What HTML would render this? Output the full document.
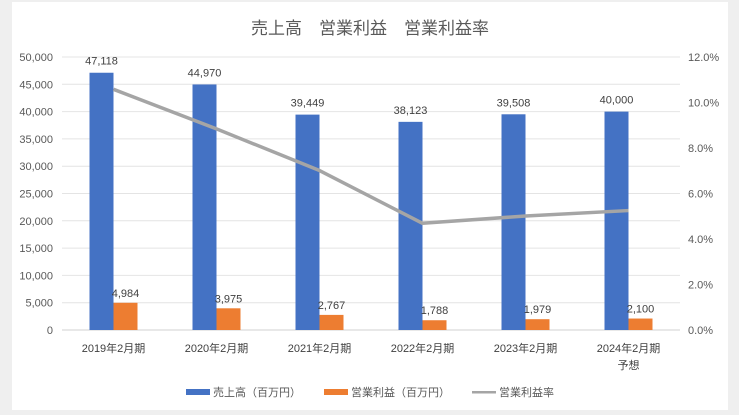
<!DOCTYPE html>
<html><head><meta charset="utf-8">
<style>
body{margin:0;background:#efefef;}
svg{display:block;font-family:"Liberation Sans","Noto Sans CJK JP",sans-serif;}
</style></head>
<body>
<svg id="chart" width="739" height="415" viewBox="0 0 739 415" xmlns="http://www.w3.org/2000/svg">
<rect x="12" y="2" width="716" height="408" fill="#fff"/>
<text x="370" y="34" text-anchor="middle" font-size="17" fill="#595959">売上高　営業利益　営業利益率</text>
<g id="grid"></g><g id="marks"></g><g id="labels"></g>
<g font-size="11" fill="#595959">
<rect x="186" y="389" width="24" height="6" fill="#4472c4"/><text x="213" y="396">売上高（百万円）</text>
<rect x="324" y="389" width="24" height="6" fill="#ed7d31"/><text x="351" y="396">営業利益（百万円）</text>
<rect x="472" y="391" width="24" height="2.5" fill="#a5a5a5"/><text x="499" y="396">営業利益率</text>
</g>
</svg>
<script>
const categories=["2019年2月期","2020年2月期","2021年2月期","2022年2月期","2023年2月期","2024年2月期"];
const sales=[47118,44970,39449,38123,39508,40000];
const profit=[4984,3975,2767,1788,1979,2100];
const margin=[10.58,8.84,7.01,4.69,5.01,5.25];
const leftTicks=[0,5000,10000,15000,20000,25000,30000,35000,40000,45000,50000];
const rightTicks=[0,2,4,6,8,10,12];
const NS="http://www.w3.org/2000/svg";
const x0=62,x1=680,yB=330,yT=57;
const yL=v=>yB-(v/50000)*(yB-yT);
const yR=v=>yB-(v/12)*(yB-yT);
const band=(x1-x0)/categories.length;
const cx=i=>x0+band*(i+0.5);
function mk(p,t,a,txt){const e=document.createElementNS(NS,t);for(const k in a)e.setAttribute(k,a[k]);if(txt!==undefined)e.textContent=txt;document.getElementById(p).appendChild(e);return e;}
const fmt=v=>v.toLocaleString("en-US");
leftTicks.forEach(v=>{
 const g=mk("grid","line",{x1:x0,x2:x1,y1:yL(v),y2:yL(v),stroke:v===0?"#d0d0d0":"#e4e4e4","stroke-width":1});
 
 
 const t=mk("labels","text",{x:53,y:yL(v)+4,"text-anchor":"end","font-size":11,fill:"#595959"},fmt(v));
 
 
});
rightTicks.forEach(v=>{
 const t=mk("labels","text",{x:688,y:yR(v)+4,"font-size":11,fill:"#595959"},v.toFixed(1)+"%");
 
 
});
const bw=24;
categories.forEach((c,i)=>{
 const b=mk("marks","rect",{x:cx(i)-bw,y:yL(sales[i]),width:bw,height:yB-yL(sales[i]),fill:"#4472c4"});
 
 
 const o=mk("marks","rect",{x:cx(i),y:yL(profit[i]),width:bw,height:yB-yL(profit[i]),fill:"#ed7d31"});
 
 
 const t1=mk("labels","text",{x:cx(i)-bw/2,y:yL(sales[i])-8,"text-anchor":"middle","font-size":11,fill:"#404040"},fmt(sales[i]));
 
 
 const t2=mk("labels","text",{x:cx(i)+bw/2,y:yL(profit[i])-6,"text-anchor":"middle","font-size":11,fill:"#404040"},fmt(profit[i]));
 
 
 const xl=mk("labels","text",{x:cx(i),y:352,"text-anchor":"middle","font-size":11,fill:"#404040"},c);
 
 
});
const yx=mk("labels","text",{x:cx(5),y:369,"text-anchor":"middle","font-size":11,fill:"#404040"},"予想");


const line=mk("marks","polyline",{points:margin.map((m,i)=>cx(i)+","+yR(m)).join(" "),fill:"none",stroke:"#a5a5a5","stroke-width":3.5,"stroke-linejoin":"round"});


</script>
</body></html>
